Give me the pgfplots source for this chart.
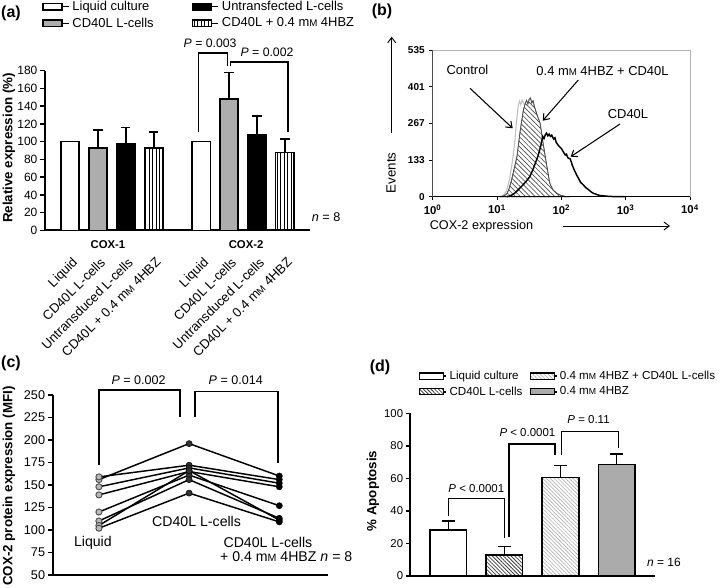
\documentclass[border=0pt]{standalone}
\usepackage{pgfplots}
\pgfplotsset{compat=1.18}
\usepackage{fontspec}
\setmainfont{Liberation Sans}
\usetikzlibrary{patterns.meta,arrows.meta}
\newcommand{\fs}[1]{\fontsize{#1pt}{#1pt}\selectfont}
\newcommand{\mM}{m\scalebox{0.75}{M}}
\pgfplotsset{
  legA/.style={legend image code/.code={\draw[##1,line width=1pt] (0pt,-2.6pt) rectangle (14.25pt,2.6pt); \path (14.25pt,0pt) -- (19.5pt,0pt);}},
  legD/.style={legend image code/.code={\draw[##1,line width=0.8pt] (0pt,-2.3pt) rectangle (18pt,2.3pt); \path (18pt,0pt) -- (19.8pt,0pt);}},
}
\begin{document}
\begin{tikzpicture}
\path[use as bounding box] (0pt,0pt) rectangle (540pt,-441pt);

% ---------------- (a) ----------------
\begin{axis}[
  at={(33.75pt,-172.8pt)}, anchor=south west, scale only axis,
  width=198.75pt, height=119.78pt,
  xmin=-0.896, xmax=8.6, ymin=0, ymax=180, enlargelimits=false, clip=false,
  axis lines=left, axis line style={-, line width=1.4pt},
  tick align=outside, major tick length=3.5pt,
  ytick={0,20,...,180}, ytick style={line width=1.2pt, black},
  xtick={0,1,2,3,4.7,5.7,6.7,7.7}, xtick style={draw=none},
  xticklabels={Liquid, CD40L L-cells, Untransduced L-cells, CD40L + 0.4 \mM{} 4HBZ, Liquid, CD40L L-cells, Untransduced L-cells, CD40L + 0.4 \mM{} 4HBZ},
  xticklabel style={xshift=1pt, yshift=-16pt, rotate=45, anchor=north east, inner sep=0pt, font=\fs{9.8}},
  yticklabel style={font=\fs{9}, inner sep=2pt},
  /pgf/number format/assume math mode=true,
  ylabel={Relative expression (\%)},
  ylabel style={at={(axis description cs:-0.136,0.516)}, anchor=center, font=\fs{10}\bfseries},
  ybar, bar shift=0pt, bar width=0.66,
  legend columns=2, legend cell align=left,
  legend style={at={(axis description cs:-0.011,1.455)}, anchor=north west, draw=none, fill=none, font=\fs{9.7}, row sep=0pt, inner sep=0pt},
]
\addplot[fill=white, draw=black, line width=1.2pt, legA] coordinates {(0,100) (4.7,100)};
\addlegendentry{\makebox[87.5pt][l]{Liquid culture}}
\addplot[fill=black, draw=black, line width=1.2pt, legA,
  error bars/.cd, y dir=plus, y explicit, error bar style={line width=1.2pt, black},
  error mark options={rotate=90, mark size=3.5pt, line width=1.2pt, black}]
  coordinates {(2,98) +- (0,18) (6.7,108) +- (0,21)};
\addlegendentry{Untransfected L-cells}
\addplot[fill=black!32, draw=black, line width=1.2pt, legA,
  error bars/.cd, y dir=plus, y explicit, error bar style={line width=1.2pt, black},
  error mark options={rotate=90, mark size=3.5pt, line width=1.2pt, black}]
  coordinates {(1,93) +- (0,20) (5.7,148) +- (0,30)};
\addlegendentry{\makebox[87.5pt][l]{CD40L L-cells}}
\addplot[draw=black, line width=1.2pt, pattern={Lines[angle=90,distance=2.6pt,line width=0.7pt]}, pattern color=black, legA,
  error bars/.cd, y dir=plus, y explicit, error bar style={line width=1.2pt, black},
  error mark options={rotate=90, mark size=3.5pt, line width=1.2pt, black}]
  coordinates {(3,93) +- (0,18) (7.7,88) +- (0,15)};
\addlegendentry{CD40L + 0.4 \mM{} 4HBZ}
\draw[line width=1.2pt] (axis cs:4.6,111) |- (axis cs:5.645,200) -- (axis cs:5.645,185);
\draw[line width=1.2pt] (axis cs:5.75,185) |- (axis cs:7.82,190) -- (axis cs:7.82,111);
\node[font=\fs{9.2}] at (axis cs:5.02,211) {\textit{P} = 0.003};
\node[font=\fs{9.2}] at (axis cs:7.06,201) {\textit{P} = 0.002};
\node[font=\fs{9.5}] at (axis cs:9.18,15.1) {\textit{n} = 8};
\node[font=\fs{8.5}\bfseries] at (axis cs:1.36,-16.5) {COX-1};
\node[font=\fs{8.5}\bfseries] at (axis cs:6.31,-16.5) {COX-2};
\end{axis}

% ---------------- (b) ----------------
\begin{axis}[
  at={(324.5pt,-147.5pt)}, anchor=south west, scale only axis, width=193pt, height=110pt,
  xmin=0, xmax=4, ymin=0, ymax=535, enlargelimits=false, clip=false,
  axis line style={gray!60, line width=0.6pt},
  tick pos=left, tick align=outside, major tick length=2.5pt, tick style={black, line width=0.6pt},
  xtick={0,1,2,3,4}, xticklabels={10\textsuperscript{0},10\textsuperscript{1},10\textsuperscript{2},10\textsuperscript{3},10\textsuperscript{4}},
  ytick={0,133,267,401,535},
  yticklabel style={font=\fs{7.5}\bfseries},
  xticklabel style={font=\fs{8.5}\bfseries},
  /pgf/number format/assume math mode=true,
  ylabel={Events}, ylabel style={at={(axis description cs:-0.162,0.162)}, anchor=center, font=\fs{10}},
  xlabel={COX-2 expression}, xlabel style={at={(axis description cs:0.19,-0.2)}, anchor=center, font=\fs{9.5}},
]
\addplot[gray!50, line width=0.8pt] coordinates {
(1.00,0) (1.05,1) (1.10,5) (1.15,22) (1.20,70) (1.25,146) (1.28,210) (1.30,268) (1.33,330) (1.35,348) (1.37,336) (1.39,352) (1.42,340) (1.46,300) (1.50,240) (1.55,160) (1.60,90) (1.65,40) (1.70,12) (1.75,3) (1.80,0)};
\addplot[draw=black!70, line width=0.5pt, fill=white, postaction={pattern={Lines[angle=-45,distance=2.6pt,line width=0.5pt]}, pattern color=black!70}] coordinates {
(1.05,0) (1.10,2) (1.15,10) (1.18,24) (1.22,55) (1.26,95) (1.31,146) (1.36,240) (1.41,316) (1.44,340) (1.46,352) (1.48,338) (1.50,355) (1.52,360) (1.54,342) (1.56,350) (1.58,330) (1.62,300) (1.67,268) (1.71,205) (1.75,146) (1.79,90) (1.82,49) (1.87,25) (1.93,12) (2.00,4) (2.08,0)} \closedcycle;
\addplot[black, line width=1.1pt] coordinates {
(1.15,0) (1.20,3) (1.25,8) (1.30,18) (1.35,30) (1.40,42) (1.45,55) (1.51,73) (1.56,100) (1.60,125) (1.64,150) (1.68,185) (1.71,220) (1.73,212) (1.75,225) (1.77,232) (1.79,222) (1.81,228) (1.83,220) (1.85,224) (1.88,210) (1.90,215) (1.92,198) (1.96,185) (2.00,176) (2.03,164) (2.06,152) (2.08,155) (2.10,142) (2.14,137) (2.17,115) (2.20,98) (2.24,78) (2.27,66) (2.30,52) (2.34,43) (2.38,33) (2.42,26) (2.46,18) (2.50,12) (2.55,8) (2.60,4) (2.65,3) (2.75,1) (2.85,0) (3.00,0)};
\draw[black, line width=1pt] (rel axis cs:0,0) -- (rel axis cs:1,0);
\draw[black!70, line width=0.7pt] (rel axis cs:0,0) -- (rel axis cs:0,1);
\end{axis}

% ---------------- (c) ----------------
\begin{axis}[
  at={(39.5pt,-431.25pt)}, anchor=south west, scale only axis, width=206.5pt, height=135pt,
  xmin=-0.513, xmax=2.54, ymin=50, ymax=250, enlargelimits=false, clip=false,
  axis lines=left, axis line style={-, line width=1.4pt},
  tick align=outside, major tick length=3.5pt,
  ytick={50,75,...,250}, ytick style={line width=1.2pt, black}, xtick=\empty,
  yticklabel style={font=\fs{9.5}, inner sep=2pt},
  /pgf/number format/assume math mode=true,
  ylabel={COX-2 protein expression (MFI)},
  ylabel style={at={(axis description cs:-0.159,0.494)}, anchor=center, font=\fs{10}\bfseries},
]
\addplot[black, line width=1.1pt] coordinates {(0,156) (1,196) (2,160)};
\addplot[black, line width=1.1pt] coordinates {(0,159) (1,172) (2,156)};
\addplot[black, line width=1.1pt] coordinates {(0,148) (1,169) (2,152)};
\addplot[black, line width=1.1pt] coordinates {(0,139) (1,165) (2,148)};
\addplot[black, line width=1.1pt] coordinates {(0,120) (1,161) (2,127)};
\addplot[black, line width=1.1pt] coordinates {(0,110) (1,156) (2,113)};
\addplot[black, line width=1.1pt] coordinates {(0,105) (1,166) (2,111)};
\addplot[black, line width=1.1pt] coordinates {(0,102) (1,141) (2,109)};
\addplot[only marks, mark=*, mark size=2.3pt, mark options={fill=gray!55, draw=gray!60!black, line width=0.7pt}]
  coordinates {(0,156) (0,159) (0,148) (0,139) (0,120) (0,110) (0,105) (0,102)};
\addplot[only marks, mark=*, mark size=2.3pt, mark options={fill=black!80, draw=black}]
  coordinates {(1,196) (1,172) (1,169) (1,165) (1,161) (1,156) (1,166) (1,141)};
\addplot[only marks, mark=*, mark size=2.3pt, mark options={fill=black, draw=black}]
  coordinates {(2,160) (2,156) (2,152) (2,148) (2,127) (2,113) (2,111) (2,109)};
\draw[line width=1.2pt] (axis cs:0,172.2) |- (axis cs:0.898,255.5) -- (axis cs:0.898,225.9);
\draw[line width=1.2pt] (axis cs:1.064,225.9) |- (axis cs:1.988,254) -- (axis cs:1.988,174.1);
\node[font=\fs{9.4}] at (axis cs:0.44,266.7) {\textit{P} = 0.002};
\node[font=\fs{9.4}] at (axis cs:1.517,266.7) {\textit{P} = 0.014};
\node[font=\fs{10.6}] at (axis cs:-0.067,85.9) {Liquid};
\node[font=\fs{10.6}] at (axis cs:1.083,110) {CD40L L-cells};
\node[font=\fs{10.6}] at (axis cs:1.874,86.7) {CD40L L-cells};
\node[font=\fs{10.6}, anchor=west, inner sep=0pt] at (axis cs:1.341,70.3) {+ 0.4 \mM{} 4HBZ \textit{n} = 8};
\end{axis}

% ---------------- (d) ----------------
\begin{axis}[
  at={(307.5pt,-432pt)}, anchor=south west, scale only axis, width=183.75pt, height=121.9pt,
  xmin=-0.683, xmax=3.685, ymin=0, ymax=100, enlargelimits=false, clip=false,
  axis lines=left, axis line style={-, line width=1.1pt},
  tick align=outside, major tick length=3pt,
  ytick={0,20,...,100}, ytick style={line width=1pt, black}, xtick=\empty,
  yticklabel style={font=\fs{8.5}, inner sep=2pt},
  /pgf/number format/assume math mode=true,
  ylabel={\% Apoptosis},
  ylabel style={at={(axis description cs:-0.151,0.523)}, anchor=center, font=\fs{10}\bfseries},
  ybar, bar shift=0pt, bar width=0.654,
  legend columns=2, legend cell align=left,
  legend style={at={(axis description cs:0.037,1.28)}, anchor=north west, draw=none, fill=none, font=\fs{8.7}, row sep=0pt, inner sep=0pt},
]
\addplot[fill=white, draw=black, line width=1pt, legD,
  error bars/.cd, y dir=plus, y explicit, error bar style={line width=1pt, black},
  error mark options={rotate=90, mark size=5pt, line width=1pt, black}]
  coordinates {(0,28.3) +- (0,5.5)};
\addlegendentry{\makebox[58pt][l]{Liquid culture}}
\addplot[draw=black, line width=1pt, pattern={Lines[angle=-45,distance=2pt,line width=0.5pt]}, pattern color=black!30, legD,
  error bars/.cd, y dir=plus, y explicit, error bar style={line width=1pt, black},
  error mark options={rotate=90, mark size=5pt, line width=1pt, black}]
  coordinates {(2,60.7) +- (0,7.3)};
\addlegendentry{0.4 \mM{} 4HBZ + CD40L L-cells}
\addplot[draw=black, line width=1pt, pattern={Lines[angle=-45,distance=2pt,line width=0.6pt]}, pattern color=black!75, legD,
  error bars/.cd, y dir=plus, y explicit, error bar style={line width=1pt, black},
  error mark options={rotate=90, mark size=5pt, line width=1pt, black}]
  coordinates {(1,12.9) +- (0,5.1)};
\addlegendentry{\makebox[58pt][l]{CD40L L-cells}}
\addplot[fill=black!33, draw=black, line width=1pt, legD,
  error bars/.cd, y dir=plus, y explicit, error bar style={line width=1pt, black},
  error mark options={rotate=90, mark size=5pt, line width=1pt, black}]
  coordinates {(3,68.5) +- (0,6.5)};
\addlegendentry{0.4 \mM{} 4HBZ}
\draw[line width=1pt] (axis cs:0,36.9) |- (axis cs:0.998,47.8) -- (axis cs:0.998,23.2);
\draw[line width=1pt] (axis cs:1.082,24.2) |- (axis cs:1.902,81.2) -- (axis cs:1.902,74.5);
\draw[line width=1pt] (axis cs:2.021,74.5) |- (axis cs:3.03,88.8) -- (axis cs:3.03,78.6);
\node[font=\fs{8.6}] at (axis cs:0.5,54) {\textit{P} < 0.0001};
\node[font=\fs{8.6}] at (axis cs:1.41,88) {\textit{P} < 0.0001};
\node[font=\fs{8.6}] at (axis cs:2.5,96) {\textit{P} = 0.11};
\node[font=\fs{9}] at (axis cs:3.845,8.4) {\textit{n} = 16};
\end{axis}

% ---------------- annotations ----------------
\begin{scope}[x=0.75pt, y=-0.75pt]
\node[font=\fs{12}\bfseries] at (11,13) {(a)};
\node[font=\fs{12}\bfseries] at (382,11) {(b)};
\node[font=\fs{12}\bfseries] at (11,363) {(c)};
\node[font=\fs{12}\bfseries] at (380,367) {(d)};
\node[font=\fs{9.7}] at (467.5,70) {Control};
\node[font=\fs{9.7}] at (602.5,70.7) {0.4 \mM{} 4HBZ + CD40L};
\node[font=\fs{9.7}] at (628,114) {CD40L};
\draw[-{Straight Barb[length=4pt,width=6pt]}, line width=0.8pt] (470,88.3) -- (512.7,128.3);
\draw[-{Straight Barb[length=4pt,width=6pt]}, line width=0.8pt] (578.3,80) -- (542.7,120.7);
\draw[-{Straight Barb[length=4pt,width=6pt]}, line width=0.8pt] (620,124) -- (570.7,156.7);
\draw[-{Straight Barb[length=4pt,width=6pt]}, line width=0.7pt] (391.7,133) -- (391.7,36.7);
\draw[-{Straight Barb[length=4pt,width=6pt]}, line width=0.7pt] (563,226) -- (670,226);
\end{scope}
\end{tikzpicture}
\end{document}
